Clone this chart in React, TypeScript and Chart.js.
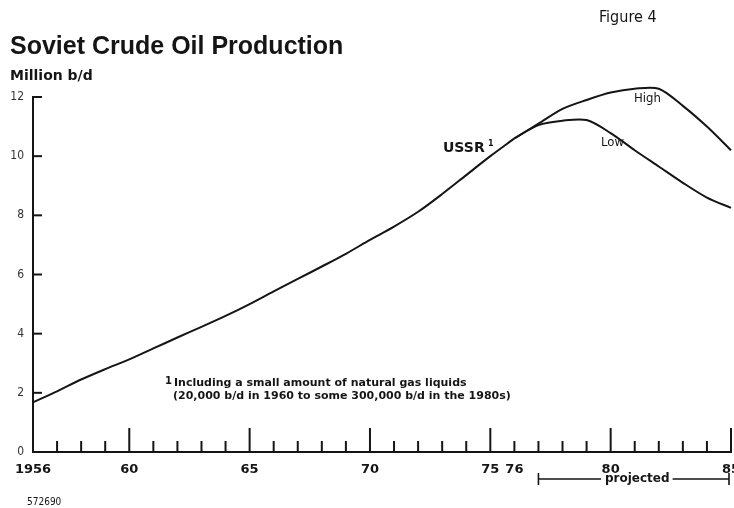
import React, { useEffect, useRef } from "react";
import { Chart, registerables } from "chart.js";

Chart.register(...registerables);

// ---- data (million b/d) ----
const histYears = [1956, 1957, 1958, 1959, 1960, 1961, 1962, 1963, 1964, 1965, 1966, 1967, 1968, 1969, 1970, 1971, 1972, 1973, 1974, 1975, 1976];
const histValues = [1.68, 2.05, 2.45, 2.8, 3.13, 3.5, 3.87, 4.23, 4.6, 5.0, 5.43, 5.85, 6.27, 6.7, 7.17, 7.62, 8.12, 8.72, 9.36, 10.0, 10.6];
const projYears = [1976, 1977, 1978, 1979, 1980, 1981, 1982, 1983, 1984, 1985];
const highValues = [10.6, 11.1, 11.6, 11.9, 12.15, 12.28, 12.28, 11.7, 11.0, 10.2];
const lowValues = [10.6, 11.05, 11.2, 11.22, 10.78, 10.2, 9.65, 9.1, 8.6, 8.25];

const xLabelYears = [1956, 1960, 1965, 1970, 1975, 1976, 1980, 1985];
const xLabelTexts = ["1956", "60", "65", "70", "75", "76", "80", "85"];
const yTickValues = [0, 2, 4, 6, 8, 10, 12];
const projectedFrom = 1977;
const projectedTo = 1985;

const INK = "#151515";
const NARROW = "'Liberation Sans Narrow', 'DejaVu Sans Condensed', 'Arial Narrow', sans-serif";

const toPoints = (xs: number[], ys: number[]) => xs.map((x, i) => ({ x, y: ys[i] }));

const decorPlugin = {
  id: "decor",
  afterDraw(chart: any) {
    const { ctx, chartArea } = chart;
    const xs = chart.scales.x;
    const ys = chart.scales.y;
    ctx.save();
    ctx.strokeStyle = INK;
    ctx.lineWidth = 2;
    ctx.lineCap = "butt";
    // x tick marks (upward)
    for (let yr = xs.min + 1; yr <= xs.max; yr++) {
      const px = xs.getPixelForValue(yr);
      const h = yr % 5 === 0 ? 24 : 11;
      ctx.beginPath();
      ctx.moveTo(px, chartArea.bottom);
      ctx.lineTo(px, chartArea.bottom - h);
      ctx.stroke();
    }
    // y tick marks (inward)
    yTickValues.forEach((v) => {
      if (v === 0) return;
      const py = ys.getPixelForValue(v);
      ctx.beginPath();
      ctx.moveTo(chartArea.left - 1, py);
      ctx.lineTo(chartArea.left + 9, py);
      ctx.stroke();
    });

    ctx.fillStyle = INK;
    ctx.textBaseline = "alphabetic";
    ctx.textAlign = "left";
    // title etc.
    ctx.font = "bold 25px 'Liberation Sans', Arial, sans-serif";
    ctx.fillText("Soviet Crude Oil Production", 10, 54);
    ctx.font = "bold 14px 'DejaVu Sans', sans-serif";
    ctx.fillText("Million b/d", 10, 80);
    ctx.font = `16px ${NARROW}`;
    ctx.fillText("Figure 4", 599, 22);

    // series labels
    ctx.font = "bold 14px 'DejaVu Sans', sans-serif";
    ctx.fillText("USSR", 443, 152);
    ctx.font = "bold 8px 'DejaVu Sans', sans-serif";
    ctx.fillText("1", 488, 146);
    ctx.font = `13px ${NARROW}`;
    ctx.fillText("High", 634, 102);
    ctx.fillText("Low", 601, 146);

    // footnote
    ctx.font = "bold 10px 'DejaVu Sans', sans-serif";
    ctx.fillText("1", 165, 384);
    ctx.font = "bold 11px 'DejaVu Sans', sans-serif";
    ctx.fillText("Including a small amount of natural gas liquids", 174, 386);
    ctx.fillText("(20,000 b/d in 1960 to some 300,000 b/d in the 1980s)", 173, 399);

    // projected bracket
    const pL = xs.getPixelForValue(projectedFrom);
    const pR = xs.getPixelForValue(projectedTo) - 2;
    const by = 479;
    ctx.font = "bold 12px 'DejaVu Sans', sans-serif";
    const label = "projected";
    const tw = ctx.measureText(label).width;
    const tx = 605;
    ctx.lineWidth = 1.6;
    ctx.beginPath();
    ctx.moveTo(pL, by - 6);
    ctx.lineTo(pL, by + 6);
    ctx.moveTo(pL, by);
    ctx.lineTo(tx - 4, by);
    ctx.moveTo(tx + tw + 3, by);
    ctx.lineTo(pR, by);
    ctx.moveTo(pR, by - 6);
    ctx.lineTo(pR, by + 6);
    ctx.stroke();
    ctx.textBaseline = "middle";
    ctx.fillText(label, tx, by);

    ctx.textBaseline = "alphabetic";
    ctx.font = `10px ${NARROW}`;
    ctx.fillText("572690", 27, 505);
    ctx.restore();
  },
};

export default function App() {
  const ref = useRef<HTMLCanvasElement | null>(null);
  useEffect(() => {
    if (!ref.current) return;
    const lineStyle = {
      borderColor: INK,
      borderWidth: 2,
      pointRadius: 0,
      tension: 0.3,
      fill: false,
      clip: false as any,
    };
    const chart = new Chart(ref.current, {
      type: "line",
      data: {
        datasets: [
          { label: "USSR", data: toPoints(histYears, histValues), ...lineStyle },
          { label: "High", data: toPoints(projYears, highValues), ...lineStyle },
          { label: "Low", data: toPoints(projYears, lowValues), ...lineStyle },
        ],
      },
      options: {
        animation: false,
        responsive: false,
        events: [],
        layout: { padding: { left: 0, top: 97, right: 3, bottom: 0 } },
        plugins: {
          legend: { display: false },
          tooltip: { enabled: false },
          title: { display: false },
        },
        scales: {
          x: {
            type: "linear",
            min: 1956,
            max: 1985,
            grid: { display: false, drawTicks: false },
            border: { display: true, color: INK, width: 2 },
            ticks: {
              stepSize: 1,
              autoSkip: false,
              maxRotation: 0,
              padding: 10,
              color: INK,
              font: { family: "'DejaVu Sans', sans-serif", size: 13, weight: "bold" },
              callback: (v: any) => {
                const i = xLabelYears.indexOf(Number(v));
                return i >= 0 ? xLabelTexts[i] : "";
              },
            },
            afterFit: (s: any) => {
              s.height = 56;
              s.paddingLeft = 0;
              s.paddingRight = 0;
            },
          },
          y: {
            min: 0,
            max: 12,
            grid: { display: false, drawTicks: false },
            border: { display: true, color: INK, width: 2 },
            ticks: {
              stepSize: 2,
              padding: 9,
              color: "#333",
              font: { family: NARROW, size: 12 },
            },
            afterFit: (s: any) => {
              s.width = 33;
              s.paddingTop = 0;
              s.paddingBottom = 0;
            },
          },
        },
      },
      plugins: [decorPlugin],
    } as any);
    return () => chart.destroy();
  }, []);
  return (
    <div style={{ position: "fixed", left: 0, top: 0, width: 734, height: 508, background: "#fff" }}>
      <canvas ref={ref} width={734} height={508} style={{ display: "block" }} />
    </div>
  );
}
